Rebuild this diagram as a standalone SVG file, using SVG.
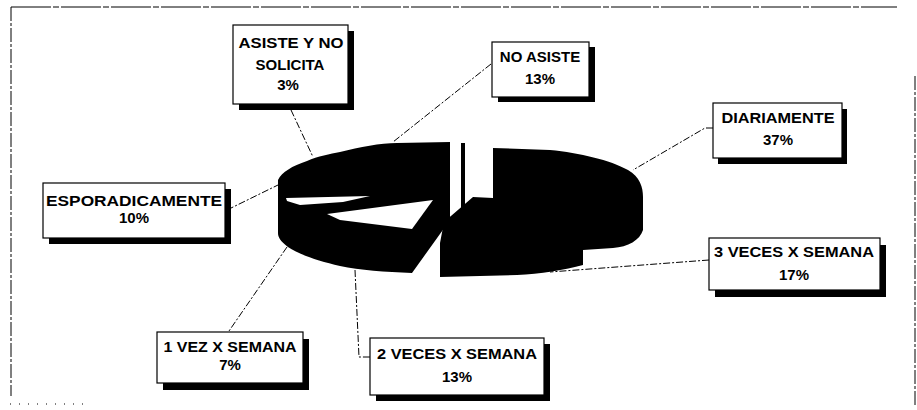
<svg xmlns="http://www.w3.org/2000/svg" width="917" height="410" viewBox="0 0 917 410">
<style>
.frame{fill:none;stroke:#000;stroke-width:1}
.shadow{fill:#000}
.box{fill:#fff;stroke:#000;stroke-width:1.2}
.lbl{font-family:"Liberation Sans",Arial,sans-serif;font-weight:bold;font-size:15px;fill:#000;text-anchor:middle}
.lead{fill:none;stroke:#000;stroke-width:1;stroke-dasharray:7 2 2 2}
.pie{fill:#000}
.gap{fill:#fff}
</style>
<rect width="917" height="410" fill="#fff"/>
<g id="frame">
<path class="frame" d="M11,7 H897" stroke-dasharray="40 2 6 2"/>
<path class="frame" d="M11,7 V396" stroke-dasharray="14 2 3 2"/>
<path class="frame" d="M915,76 V406" stroke-dasharray="14 2 3 2"/>
<path class="frame" d="M10,404 H85" stroke-dasharray="1 8"/>
</g>
<g id="pie">
<path class="pie" d="M278,180 C282,172 292,166 307,161 C318,156 330,154 340,152 C360,147 380,143 397,143 L450,142 L450,220 L412,273 C385,272 360,270 340,266 C318,261 298,254 288,247 C280,241 278,237 278,233 Z"/>
<path class="pie" d="M493,148 L550,150 C580,153 610,160 628,170 C640,177 643,187 643,197 L643,230 C640,240 628,247 613,248 L583,250 L583,265 C565,270 540,274 517,275 L440,277 L440,243 L444,222 L473,197 L493,198 Z"/>
<rect class="pie" x="461" y="143" width="4" height="65"/>
<polygon class="gap" points="286,198 370,196 343,202 300,205 287,201"/>
<polygon class="gap" points="327,214 433,200 412,229 340,220"/>
</g>
<g id="connectors">
<path class="lead" d="M291,110 L313,157"/>
<path class="lead" d="M491,64 L393,142"/>
<path class="lead" d="M713,128 H705 L633,170"/>
<path class="lead" d="M227,210 L278,185"/>
<path class="lead" d="M287,247 L229,331"/>
<path class="lead" d="M355,270 L359,357 H370"/>
<path class="lead" d="M709,260 L550,272"/>
</g>
<g id="asiste-no-solicita">
<rect class="shadow" x="239" y="31" width="115" height="79"/>
<rect class="box" x="233" y="25" width="115" height="79"/>
<text class="lbl" x="291" y="48" textLength="105" lengthAdjust="spacingAndGlyphs">ASISTE Y NO</text>
<text class="lbl" x="290" y="70">SOLICITA</text>
<text class="lbl" x="288" y="90">3%</text>
</g>
<g id="no-asiste">
<rect class="shadow" x="498" y="47" width="97" height="55"/>
<rect class="box" x="492" y="42" width="97" height="55"/>
<text class="lbl" x="540" y="62">NO ASISTE</text>
<text class="lbl" x="540" y="84">13%</text>
</g>
<g id="diariamente">
<rect class="shadow" x="718" y="109" width="129" height="55"/>
<rect class="box" x="713" y="103" width="129" height="55"/>
<text class="lbl" x="778" y="123" textLength="113" lengthAdjust="spacingAndGlyphs">DIARIAMENTE</text>
<text class="lbl" x="778" y="145">37%</text>
</g>
<g id="esporadicamente">
<rect class="shadow" x="49" y="189" width="182" height="55"/>
<rect class="box" x="43" y="183" width="182" height="55"/>
<text class="lbl" x="134" y="206" textLength="176" lengthAdjust="spacingAndGlyphs">ESPORADICAMENTE</text>
<text class="lbl" x="134" y="223">10%</text>
</g>
<g id="tres-veces">
<rect class="shadow" x="715" y="245" width="171" height="52"/>
<rect class="box" x="709" y="238" width="171" height="52"/>
<text class="lbl" x="794" y="257" textLength="160" lengthAdjust="spacingAndGlyphs">3 VECES X SEMANA</text>
<text class="lbl" x="794" y="280">17%</text>
</g>
<g id="una-vez">
<rect class="shadow" x="163" y="339" width="146" height="51"/>
<rect class="box" x="157" y="332" width="146" height="51"/>
<text class="lbl" x="230" y="352" textLength="133" lengthAdjust="spacingAndGlyphs">1 VEZ X SEMANA</text>
<text class="lbl" x="230" y="370">7%</text>
</g>
<g id="dos-veces">
<rect class="shadow" x="376" y="344" width="174" height="57"/>
<rect class="box" x="370" y="338" width="174" height="57"/>
<text class="lbl" x="457" y="359" textLength="160" lengthAdjust="spacingAndGlyphs">2 VECES X SEMANA</text>
<text class="lbl" x="457" y="382">13%</text>
</g>
</svg>
